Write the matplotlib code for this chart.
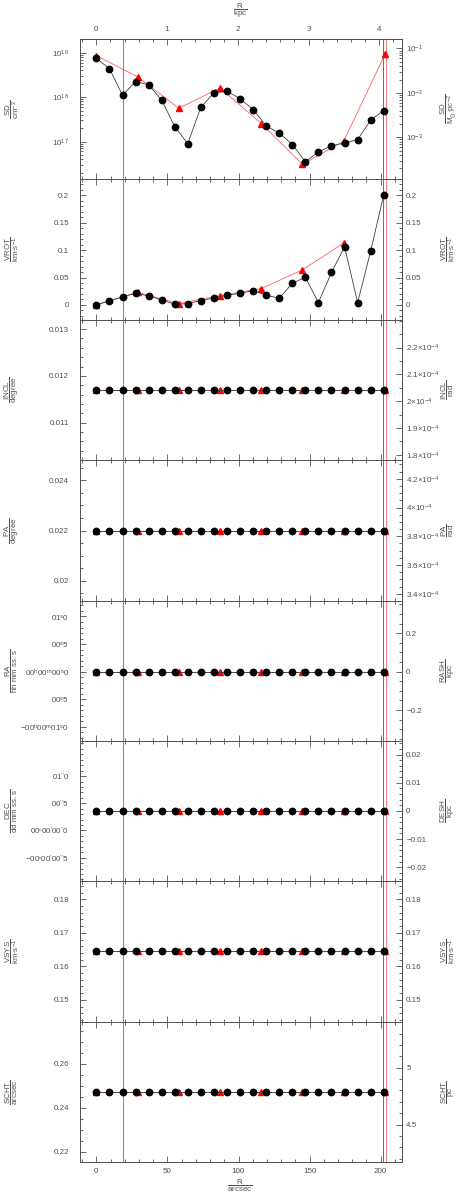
import numpy as np
import matplotlib
matplotlib.use("Agg")
import matplotlib.pyplot as plt
from matplotlib.ticker import (MultipleLocator, FixedLocator, FixedFormatter,
                               FuncFormatter, LogLocator, NullFormatter,
                               LogFormatterMathtext)

plt.rcParams['font.family'] = 'Liberation Sans'
plt.rcParams['font.size'] = 5.8
plt.rcParams['mathtext.default'] = 'regular'
plt.rcParams['mathtext.fontset'] = 'custom'
plt.rcParams['mathtext.rm'] = 'Liberation Sans'
plt.rcParams['mathtext.it'] = 'Liberation Sans'

GREY = '#505050'

# radii in arcsec
r_black = [0, 9.2, 18.4, 27.6, 36.8, 46.0, 55.1, 64.3, 73.5, 82.7, 91.9, 101.1,
           110.3, 119.5, 128.7, 137.9, 147.0, 156.2, 165.4, 174.6, 183.8, 193.0, 202.2]
r_red = [0, 29, 58, 87, 116, 145, 174, 203]

# surface density (cm^-2)
sd_black = [7.48e18, 4.40e18, 1.11e18, 2.24e18, 1.90e18, 8.55e17, 2.18e17, 9.02e16,
            5.94e17, 1.25e18, 1.36e18, 9.25e17, 5.27e17, 2.25e17, 1.56e17, 8.55e16,
            3.53e16, 5.82e16, 8.13e16, 9.29e16, 1.11e17, 3.08e17, 5.01e17]
sd_red = [8.65e18, 2.87e18, 5.65e17, 1.62e18, 2.55e17, 3.08e16, 1.02e17, 9.2e18]

# rotation velocity (km/s)
vrot_black = [0.0, 0.0073, 0.0146, 0.0213, 0.0165, 0.0091, 0.0012, 0.0024, 0.0079,
              0.0128, 0.0177, 0.0213, 0.0262, 0.0177, 0.0122, 0.0396, 0.0506, 0.0043,
              0.0592, 0.1061, 0.0043, 0.0988, 0.2013]
vrot_red = [0.0006, 0.0232, 0.0024, 0.0171, 0.0299, 0.064, 0.1128, np.nan]

# constant parameters
incl_black = [0.01169] * 23
incl_red = [0.01169] * 8
pa_black = [0.022] * 23
pa_red = [0.022] * 8
ra_black = [0.0] * 23
ra_red = [0.0] * 8
dec_black = [0.36] * 23
dec_red = [0.36] * 8
vsys_black = [0.16452] * 23
vsys_red = [0.16452] * 8
scht_black = [0.2473] * 23
scht_red = [0.2473] * 8

# vertical markers (arcsec)
r_blue_line = 19.0
r_black_line = 201.9
r_red_line = 203.6

KPC_PER_ARCSEC_TOP = 0.0201
KPC_PER_ARCSEC = 0.0193
HI_FACTOR = 1.249e20


def fmt_g(v, pos):
    s = f"{v:.6g}"
    if s in ("-0", "0"):
        return "0"
    return s.replace('-', '\u2212')


def fmt_e4(v, pos):
    return r"$%g{\times}10^{-4}$" % round(v * 1e4, 3)


ra_ticks = [-1.0, -0.5, 0.0, 0.5, 1.0]
ra_labels = [r"$-00^{h}00^{m}01^{s}0$", r"$00^{s}5$", r"$00^{h}00^{m}00^{s}0$",
             r"$00^{s}5$", r"$01^{s}0$"]
dec_ticks = [-0.5, 0.0, 0.5, 1.0]
dec_labels = [r"$-00^{\circ}00^{\prime}00^{\prime\prime}5$",
              r"$00^{\circ}00^{\prime}00^{\prime\prime}0$",
              r"$00^{\prime\prime}5$", r"$01^{\prime\prime}0$"]

panels = [
    dict(name="SD", lunit=r"cm^{-2}", runit=r"M_{\odot}{\cdot}pc^{-2}",
         black=sd_black, red=sd_red, ylim=(10**16.15, 10**19.31), log=True,
         rticks=[1e-3, 1e-2, 1e-1],
         fwd=lambda x: x / HI_FACTOR, inv=lambda x: x * HI_FACTOR),
    dict(name="VROT", lunit=r"km{\cdot}s^{-1}", runit=r"km{\cdot}s^{-1}",
         black=vrot_black, red=vrot_red, ylim=(-0.027, 0.229),
         lmaj=0.05, lmin=0.01, rticks=[0, 0.05, 0.1, 0.15, 0.2], rmin=0.01,
         fwd=lambda x: x, inv=lambda x: x),
    dict(name="INCL", lunit="degree", runit="rad",
         black=incl_black, red=incl_red, ylim=(0.0102, 0.0132),
         lmaj=0.001, lmin=0.0002, rticks=[1.8e-4, 1.9e-4, 2.0e-4, 2.1e-4, 2.2e-4],
         rmin=5e-6, rfmt=fmt_e4,
         fwd=np.deg2rad, inv=np.rad2deg),
    dict(name="PA", lunit="degree", runit="rad",
         black=pa_black, red=pa_red, ylim=(0.01921, 0.02481),
         lmaj=0.002, lmin=0.0005, rticks=[3.4e-4, 3.6e-4, 3.8e-4, 4.0e-4, 4.2e-4],
         rmin=5e-6, rfmt=fmt_e4,
         fwd=np.deg2rad, inv=np.rad2deg),
    dict(name="RA", lunit=r"hh\ mm\ ss.s", rname="RASH", runit="kpc",
         black=ra_black, red=ra_red, ylim=(-1.255, 1.29),
         lticks=(ra_ticks, ra_labels), lmin=0.1, rticks=[-0.2, 0, 0.2], rmin=0.05,
         fwd=lambda x: x * 0.287, inv=lambda x: x / 0.287),
    dict(name="DEC", lunit=r"dd\ mm\ ss.s", rname="DESH", runit="kpc",
         black=dec_black, red=dec_red, ylim=(-0.934, 1.648),
         lticks=(dec_ticks, dec_labels), lmin=0.1,
         rticks=[-0.02, -0.01, 0, 0.01, 0.02], rmin=0.002,
         fwd=lambda x: (x - 0.36) * KPC_PER_ARCSEC,
         inv=lambda x: x / KPC_PER_ARCSEC + 0.36),
    dict(name="VSYS", lunit=r"km{\cdot}s^{-1}", runit=r"km{\cdot}s^{-1}",
         black=vsys_black, red=vsys_red, ylim=(0.1435, 0.1854),
         lmaj=0.01, lmin=0.002, rticks=[0.15, 0.16, 0.17, 0.18], rmin=0.002,
         fwd=lambda x: x, inv=lambda x: x),
    dict(name="SCHT", lunit="arcsec", runit="pc",
         black=scht_black, red=scht_red, ylim=(0.2153, 0.2791),
         lmaj=0.02, lmin=0.005, rticks=[4.5, 5.0], rmin=0.1,
         fwd=lambda x: x * 19.37, inv=lambda x: x / 19.37),
]

W, H = 463, 1199
fig = plt.figure(figsize=(W / 100, H / 100), dpi=100)
left, right = 80 / W, 402 / W
top_px, bot_px = 39, 1162
n = len(panels)
ph = (bot_px - top_px) / n

tick_kw = dict(direction='in', colors=GREY, labelcolor=GREY, width=0.6)

for i, p in enumerate(panels):
    y0 = 1 - (top_px + (i + 1) * ph) / H
    ax = fig.add_axes([left, y0, right - left, ph / H])
    for sp in ax.spines.values():
        sp.set_color(GREY)
        sp.set_linewidth(0.7)

    ax.axvline(r_blue_line, color='#6a6aff', lw=0.8, alpha=0.85, zorder=1)
    ax.axvline(r_black_line, color='#555555', lw=0.6, zorder=1)
    ax.axvline(r_red_line, color='#ff6a6a', lw=0.6, zorder=1)

    ax.plot(r_red, p["red"], color='#ff6060', lw=0.6, marker='^', ms=4.4,
            mfc='red', mec='red', zorder=2)
    ax.plot(r_black, p["black"], color='#404040', lw=0.6, marker='o', ms=4.6,
            mfc='black', mec='black', zorder=3)

    ax.set_xlim(-11.5, 215.0)
    ax.set_ylim(*p["ylim"])
    ax.xaxis.set_major_locator(MultipleLocator(50))
    ax.xaxis.set_minor_locator(MultipleLocator(10))
    ax.tick_params(axis='x', which='both', bottom=True, top=(i > 0), **tick_kw)
    ax.tick_params(axis='x', which='major', length=4, pad=4)
    ax.tick_params(axis='x', which='minor', length=2)
    if i < n - 1:
        ax.tick_params(axis='x', labelbottom=False)

    if p.get("log"):
        ax.set_yscale('log')
        ax.set_ylim(*p["ylim"])
        ax.yaxis.set_major_locator(FixedLocator([1e17, 1e18, 1e19]))
        ax.yaxis.set_major_formatter(LogFormatterMathtext())
        ax.yaxis.set_minor_locator(LogLocator(base=10, subs=np.arange(2, 10)))
        ax.yaxis.set_minor_formatter(NullFormatter())
    elif "lticks" in p:
        ax.yaxis.set_major_locator(FixedLocator(p["lticks"][0]))
        ax.yaxis.set_major_formatter(FixedFormatter(p["lticks"][1]))
        ax.yaxis.set_minor_locator(MultipleLocator(p["lmin"]))
    else:
        ax.yaxis.set_major_locator(MultipleLocator(p["lmaj"]))
        ax.yaxis.set_minor_locator(MultipleLocator(p["lmin"]))
        ax.yaxis.set_major_formatter(FuncFormatter(fmt_g))
    ax.tick_params(axis='y', which='both', left=True, right=False, **tick_kw)
    ax.tick_params(axis='y', which='major', length=4, pad=8)
    ax.tick_params(axis='y', which='minor', length=2)

    sec = ax.secondary_yaxis('right', functions=(p["fwd"], p["inv"]))
    sec.spines['right'].set_color(GREY)
    sec.spines['right'].set_linewidth(0.7)
    sec.yaxis.set_major_locator(FixedLocator(p["rticks"]))
    if p.get("log"):
        sec.yaxis.set_minor_locator(LogLocator(base=10, subs=np.arange(2, 10)))
        sec.yaxis.set_major_formatter(LogFormatterMathtext())
        sec.yaxis.set_minor_formatter(NullFormatter())
    else:
        sec.yaxis.set_minor_locator(MultipleLocator(p["rmin"]))
        sec.yaxis.set_major_formatter(FuncFormatter(p.get("rfmt", fmt_g)))
    sec.tick_params(axis='y', which='both', **tick_kw)
    sec.tick_params(axis='y', which='major', length=4, pad=3)
    sec.tick_params(axis='y', which='minor', length=2)

    yc = 1 - (top_px + (i + 0.5) * ph) / H
    lname = p["name"]
    rname = p.get("rname", p["name"])
    fig.text(12 / W, yc, r"$\dfrac{%s}{%s}$" % (lname, p["lunit"]),
             rotation=90, ha='center', va='center', color=GREY, fontsize=5.8)
    fig.text(448 / W, yc, r"$\dfrac{%s}{%s}$" % (rname, p["runit"]),
             rotation=90, ha='center', va='center', color=GREY, fontsize=5.8)

    if i == 0:
        top = ax.secondary_xaxis('top', functions=(lambda x: x * KPC_PER_ARCSEC_TOP,
                                                   lambda x: x / KPC_PER_ARCSEC_TOP))
        top.spines['top'].set_color(GREY)
        top.spines['top'].set_linewidth(0.7)
        top.xaxis.set_major_locator(FixedLocator([0, 1, 2, 3, 4]))
        top.xaxis.set_minor_locator(MultipleLocator(0.2))
        top.xaxis.set_major_formatter(FuncFormatter(fmt_g))
        top.tick_params(axis='x', which='both', **tick_kw)
        top.tick_params(axis='x', which='major', length=4, pad=4)
        top.tick_params(axis='x', which='minor', length=2)

fig.text(240 / W, 1 - 11 / H, r"$\dfrac{R}{kpc}$", ha='center', va='center',
         color=GREY, fontsize=5.8)
fig.text(240 / W, 1 - 1186 / H, r"$\dfrac{R}{arcsec}$", ha='center', va='center',
         color=GREY, fontsize=5.8)

fig.savefig("out.png", dpi=100)
